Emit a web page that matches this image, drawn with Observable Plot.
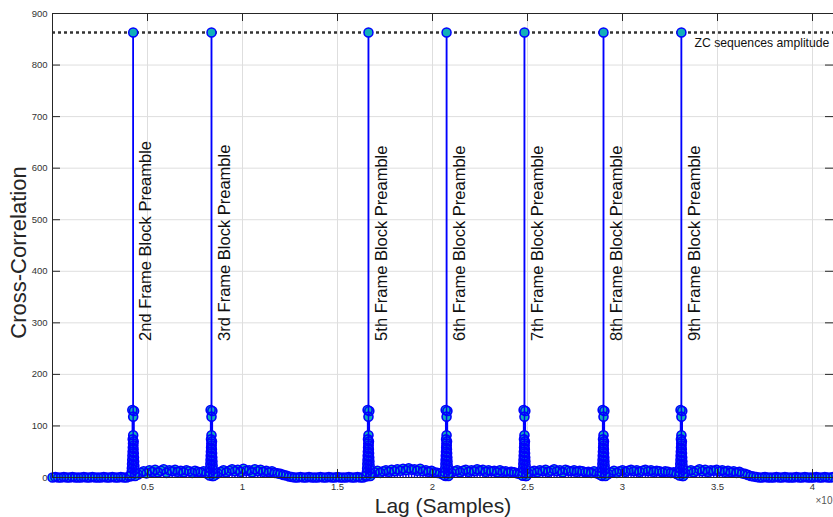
<!DOCTYPE html>
<html>
<head>
<meta charset="utf-8">
<script src="https://cdn.jsdelivr.net/npm/d3@7"></script>
<script src="https://cdn.jsdelivr.net/npm/@observablehq/plot@0.6"></script>
<style>
  html, body { margin: 0; padding: 0; background: white; overflow: hidden; }
</style>
</head>
<body>
<div id="chart"></div>
<script>
// ---- data ----
const lagStart = 0;
const lagStep = 150;
// background cross-correlation values at lags 0, 150, 300, ... 41100
const noiseValues = [
  0,1,0,0,1,0,0,1,0,0,0,1,0,0,1,0,0,0,1,0,0,1,0,0,1,0,0,2,
  3,4,
  6,9,12,8,14,11,15,10,13,16,9,14,12,15,11,13,10,14,12,9,13,11,10,12,8,6,
  3,5,
  8,11,14,10,13,16,12,15,11,17,13,14,10,16,12,15,11,13,10,12,9,8,7,5,4,2,
  1,0,0,1,0,0,1,0,0,0,1,0,0,1,0,0,1,0,0,0,1,0,0,1,0,0,2,
  3,
  7,10,13,9,12,14,11,15,12,16,13,17,14,18,15,16,13,17,12,14,11,13,10,9,8,6,
  3,5,
  9,12,14,10,13,15,11,14,12,16,13,15,11,14,12,13,10,14,11,12,9,11,10,8,7,4,
  3,
  8,11,13,10,14,12,15,11,13,16,12,14,10,15,13,12,14,11,13,12,10,11,9,12,8,6,
  3,4,
  7,10,13,9,12,14,11,13,15,12,14,11,13,15,12,14,11,13,12,10,12,11,9,10,7,5,
  3,
  8,12,14,10,13,16,12,15,11,14,13,15,12,14,11,13,10,12,9,11,8,7,5,3,2,
  1,0,0,1,0,0,0,1,0,0,1,0,0,0,1,0,0,1,0,0,0,1,0,0,1,0,0,1
];
// preamble correlation peaks
const peakLags = [4247, 8368, 16630, 20740, 24840, 29000, 33100];
const peakValues = [863, 863, 863, 863, 863, 863, 863];
const peakLabels = [
  "2nd Frame Block Preamble",
  "3rd Frame Block Preamble",
  "5th Frame Block Preamble",
  "6th Frame Block Preamble",
  "7th Frame Block Preamble",
  "8th Frame Block Preamble",
  "9th Frame Block Preamble"
];
// sidelobes around every peak (lag offset, value)
const sidelobeOffsets = [-100,100,-85,85,-70,70,-60,60,-50,50,-40,40,-30,30,-20,20,-10,10,-25,25,0,-45,45,0];
const sidelobeValues  = [4,3,10,8,18,15,26,23,34,31,42,39,50,47,58,55,66,62,74,70,82,131,129,118];
const zcAmplitude = 863;
const zcLabel = "ZC sequences amplitude";
const zcLabelLag = 33790;
const zcLabelValue = 842;
const labelValue = 265;

const xTicks = [5000, 10000, 15000, 20000, 25000, 30000, 35000, 40000];
const xTickLabels = ["0.5", "1", "1.5", "2", "2.5", "3", "3.5", "4"];
const yTicks = [0, 100, 200, 300, 400, 500, 600, 700, 800, 900];
const xLabel = "Lag (Samples)";
const yLabel = "Cross-Correlation";
const xExponent = "×10⁴";

// ---- build tables ----
const noise = noiseValues.map((v, i) => ({lag: lagStart + i * lagStep, value: v}));
const sidelobes = peakLags.flatMap(p =>
  sidelobeOffsets.map((o, j) => ({lag: p + o, value: sidelobeValues[j]}))
);
const peaks = peakLags.map((p, i) => ({lag: p, value: peakValues[i], label: peakLabels[i]}));
const allStems = [...noise, ...sidelobes, ...peaks];

const blue = "#0000ff";
const teal = "#12b0b8";
const axisColor = "#262626";
const gridColor = "#dedede";
const font = "'Liberation Sans', Arial, Helvetica, sans-serif";

const chart = Plot.plot({
  width: 833,
  height: 517,
  marginLeft: 52,
  marginTop: 13,
  marginBottom: 40,
  marginRight: 0,
  style: {fontFamily: font, fontSize: "10px", background: "white", color: axisColor, overflow: "hidden"},
  x: {domain: [0, 41105]},
  y: {domain: [0, 900]},
  marks: [
    Plot.gridX(xTicks, {stroke: gridColor, strokeOpacity: 1}),
    Plot.gridY(yTicks, {stroke: gridColor, strokeOpacity: 1}),
    Plot.axisX(xTicks, {tickSize: 0, tickPadding: 6, tickFormat: d => xTickLabels[xTicks.indexOf(d)], fontSize: 9.5, fill: "#333", label: null}),
    Plot.axisY(yTicks, {tickSize: 0, tickPadding: 5, fontSize: 9.5, fill: "#333", label: null}),
    // zc amplitude dotted reference
    Plot.ruleY([zcAmplitude], {stroke: "#333", strokeWidth: 2.5, strokeDasharray: "3,3"}),
    Plot.text([zcLabel], {x: zcLabelLag, y: zcLabelValue, text: d => d, textAnchor: "start", fontSize: 12.2, fill: "#111"}),
    // stems
    Plot.ruleX(allStems, {x: "lag", y1: 0, y2: "value", stroke: blue, strokeWidth: 1.5}),
    Plot.dot(noise, {x: "lag", y: "value", r: 4.5, fill: teal}),
    Plot.dot(noise, {x: "lag", y: "value", r: 4.5, fill: "none", stroke: blue, strokeWidth: 1.6}),
    Plot.dot(sidelobes, {x: "lag", y: "value", r: 4.5, fill: teal}),
    Plot.dot(sidelobes, {x: "lag", y: "value", r: 4.5, fill: "none", stroke: blue, strokeWidth: 1.6}),
    Plot.ruleX(peaks, {x: "lag", y1: 0, y2: "value", stroke: blue, strokeWidth: 1.5}),
    Plot.dot(peaks, {x: "lag", y: "value", r: 4.5, fill: teal, stroke: blue, strokeWidth: 1.5}),
    // baseline
    Plot.ruleY([0], {stroke: axisColor, strokeWidth: 1}),
    // frame (top, left, bottom)
    Plot.frame({anchor: "top", stroke: axisColor}),
    Plot.frame({anchor: "left", stroke: axisColor}),
    Plot.frame({anchor: "bottom", stroke: axisColor}),
    // inward ticks
    Plot.tickX(xTicks, {x: d => d, insetTop: 456, stroke: axisColor}),
    Plot.tickX(xTicks, {x: d => d, insetBottom: 456, stroke: axisColor}),
    Plot.tickY(yTicks, {y: d => d, insetRight: 773, stroke: axisColor}),
    Plot.tickY(yTicks, {y: d => d, insetLeft: 773, stroke: axisColor}),
    // peak labels
    Plot.text(peaks, {x: "lag", y: labelValue, text: "label", rotate: -90, textAnchor: "start", dx: 13, fontSize: 16.5, fill: "#111"}),
    // axis titles
    Plot.text([yLabel], {frameAnchor: "left", text: d => d, rotate: -90, textAnchor: "middle", lineAnchor: "middle", dx: -34, dy: 7, fontSize: 22, fill: axisColor}),
    Plot.text([xLabel], {frameAnchor: "bottom", text: d => d, textAnchor: "middle", lineAnchor: "middle", dy: 29, fontSize: 21, fill: axisColor}),
    Plot.text([xExponent], {frameAnchor: "bottom-right", text: d => d, textAnchor: "start", lineAnchor: "middle", dx: -18, dy: 23, fontSize: 10, fill: "#555"})
  ]
});
document.getElementById("chart").appendChild(chart);
</script>
</body>
</html>
